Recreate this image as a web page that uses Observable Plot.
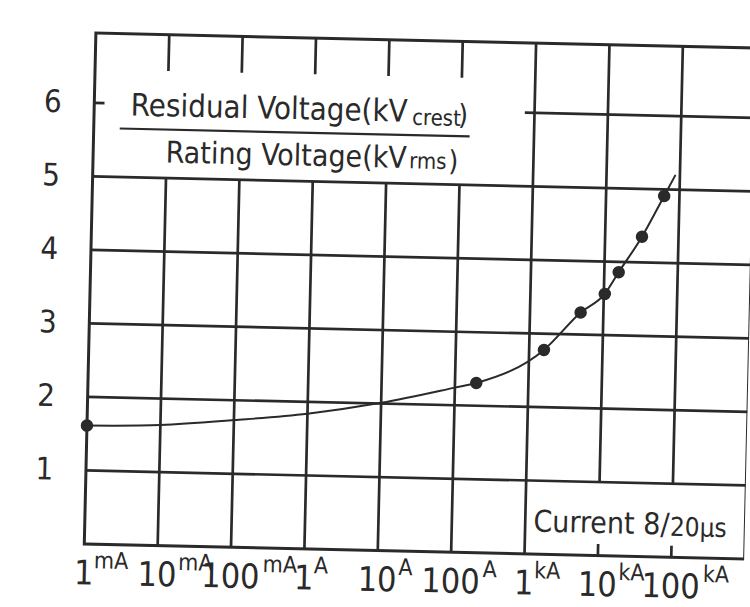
<!DOCTYPE html>
<html><head><meta charset="utf-8">
<script src="https://cdn.jsdelivr.net/npm/d3@7"></script>
<script src="https://cdn.jsdelivr.net/npm/@observablehq/plot@0.6"></script>
<style>
html,body{margin:0;padding:0;background:#fff;overflow:hidden;width:750px;height:607px}
#chart{position:absolute;left:0;top:0;width:750px;height:607px;transform-origin:420px 296px;transform:rotate(1.3deg)}
</style></head><body><div id="chart"></div>
<script>
// ---- data ----
const decades = [1e-3, 1e-2, 1e-1, 1, 10, 100, 1e3, 1e4, 1e5];
const decadeNumbers = ["1", "10", "100", "1", "10", "100", "1", "10", "100"];
const decadeUnits = ["mA", "mA", "mA", "A", "A", "A", "kA", "kA", "kA"];
const ratioTicks = [1, 2, 3, 4, 5, 6];
const curveCurrentA = [1e-3, 1e-2, 1e-1, 1, 10, 100, 195, 1590, 4900, 10300, 15700, 31800, 61900, 86000];
const curveRatio = [1.61, 1.64, 1.73, 1.84, 2.01, 2.24, 2.31, 2.78, 3.30, 3.56, 3.86, 4.35, 4.91, 5.19];
const measuredCurrentA = [1e-3, 195, 1590, 4900, 10300, 15700, 31800, 61900];
const measuredRatio = [1.61, 2.31, 2.78, 3.30, 3.56, 3.86, 4.35, 4.91];
const titleTop = ["Residual Voltage(kV", "crest", ")"];
const titleBottom = ["Rating Voltage(kV", "rms", ")"];
const boxLabel = ["Current 8/", "20μs"];

// ---- derived tables ----
const curve = curveCurrentA.map((x, i) => ({x, y: curveRatio[i]}));
const points = measuredCurrentA.map((x, i) => ({x, y: measuredRatio[i]}));
const ticks = decades.map((x, i) => ({x, n: decadeNumbers[i], u: decadeUnits[i]}));
const lowerGrid = decades.slice(1, 6);   // 10 mA .. 100 A
const rightGrid = decades.slice(7);      // 10 kA, 100 kA
const yTop = 6.95;

const ink = "#2a2a2a";
const gw = 2.7;
const font = "'DejaVu Sans Condensed','Liberation Sans',sans-serif";

const unitMarks = [1, 2, 3].map(len => Plot.text(ticks.filter(d => d.n.length === len), {
  x: "x", text: "u", frameAnchor: "bottom", dy: 24, dx: [0, 10, 21, 32][len],
  textAnchor: "start", lineAnchor: "bottom", fontSize: 23, fill: ink
}));

const chart = Plot.plot({
  width: 750, height: 607,
  marginLeft: 89.5, marginRight: 0, marginTop: 40, marginBottom: 56,
  x: {type: "log", domain: [1e-3, 1e6], axis: null},
  y: {domain: [0, yTop], axis: null},
  style: {fontFamily: font, background: "transparent", color: ink},
  marks: [
    Plot.ruleY(ratioTicks.slice(0, 5), {stroke: ink, strokeWidth: gw}),
    Plot.ruleY([6], {x1: 750, x2: 1e6, stroke: ink, strokeWidth: gw}),
    Plot.ruleY([6], {x1: 1e-3, x2: 1.4e-3, stroke: ink, strokeWidth: gw}),
    Plot.ruleX(lowerGrid, {y1: 0, y2: 5, stroke: ink, strokeWidth: gw}),
    Plot.ruleX(lowerGrid, {y1: 6.45, y2: yTop, stroke: ink, strokeWidth: gw}),
    Plot.ruleX([1e3], {y1: 0, y2: yTop, stroke: ink, strokeWidth: gw}),
    Plot.ruleX(rightGrid, {y1: 1, y2: yTop, stroke: ink, strokeWidth: gw}),
    Plot.ruleX(rightGrid, {y1: 0, y2: 0.15, stroke: ink, strokeWidth: gw}),
    Plot.frame({stroke: ink, strokeWidth: 3}),
    Plot.line(curve, {x: "x", y: "y", curve: "monotone-x", stroke: ink, strokeWidth: 2}),
    Plot.dot(points, {x: "x", y: "y", r: 5.5, fill: ink, stroke: ink}),
    // y labels
    Plot.text(ratioTicks, {y: d => d, frameAnchor: "left", dx: -41.5, textAnchor: "middle", fontSize: 31, fill: ink}),
    // x labels
    Plot.text(ticks, {x: "x", text: "n", frameAnchor: "bottom", dy: 40.5, textAnchor: "middle", lineAnchor: "bottom", fontSize: 34, fill: ink}),
    ...unitMarks,
    // fraction title
    Plot.text([titleTop[0]], {frameAnchor: "top-left", dx: 36.5, dy: 81.6, textAnchor: "start", lineAnchor: "bottom", fontSize: 31, fill: ink}),
    Plot.text([titleTop[1]], {frameAnchor: "top-left", dx: 318, dy: 84.5, textAnchor: "start", lineAnchor: "bottom", fontSize: 22, fill: ink}),
    Plot.text([titleTop[2]], {frameAnchor: "top-left", dx: 364, dy: 83, textAnchor: "start", lineAnchor: "bottom", fontSize: 28, fill: ink}),
    Plot.ruleY([5.66], {insetLeft: 26.5, insetRight: 284, stroke: ink, strokeWidth: 2.2}),
    Plot.text([titleBottom[0]], {frameAnchor: "top-left", dx: 72.5, dy: 127.8, textAnchor: "start", lineAnchor: "bottom", fontSize: 30, fill: ink}),
    Plot.text([titleBottom[1]], {frameAnchor: "top-left", dx: 316, dy: 128, textAnchor: "start", lineAnchor: "bottom", fontSize: 22, fill: ink}),
    Plot.text([titleBottom[2]], {frameAnchor: "top-left", dx: 355.5, dy: 129.5, textAnchor: "start", lineAnchor: "bottom", fontSize: 28, fill: ink}),
    // box label
    Plot.text([boxLabel[0]], {frameAnchor: "bottom-left", dx: 448.5, dy: -22.6, textAnchor: "start", lineAnchor: "bottom", fontSize: 30, fill: ink}),
    Plot.text([boxLabel[1]], {frameAnchor: "bottom-left", dx: 585, dy: -21.5, textAnchor: "start", lineAnchor: "bottom", fontSize: 26, fill: ink})
  ]
});
document.getElementById("chart").appendChild(chart);
</script></body></html>
